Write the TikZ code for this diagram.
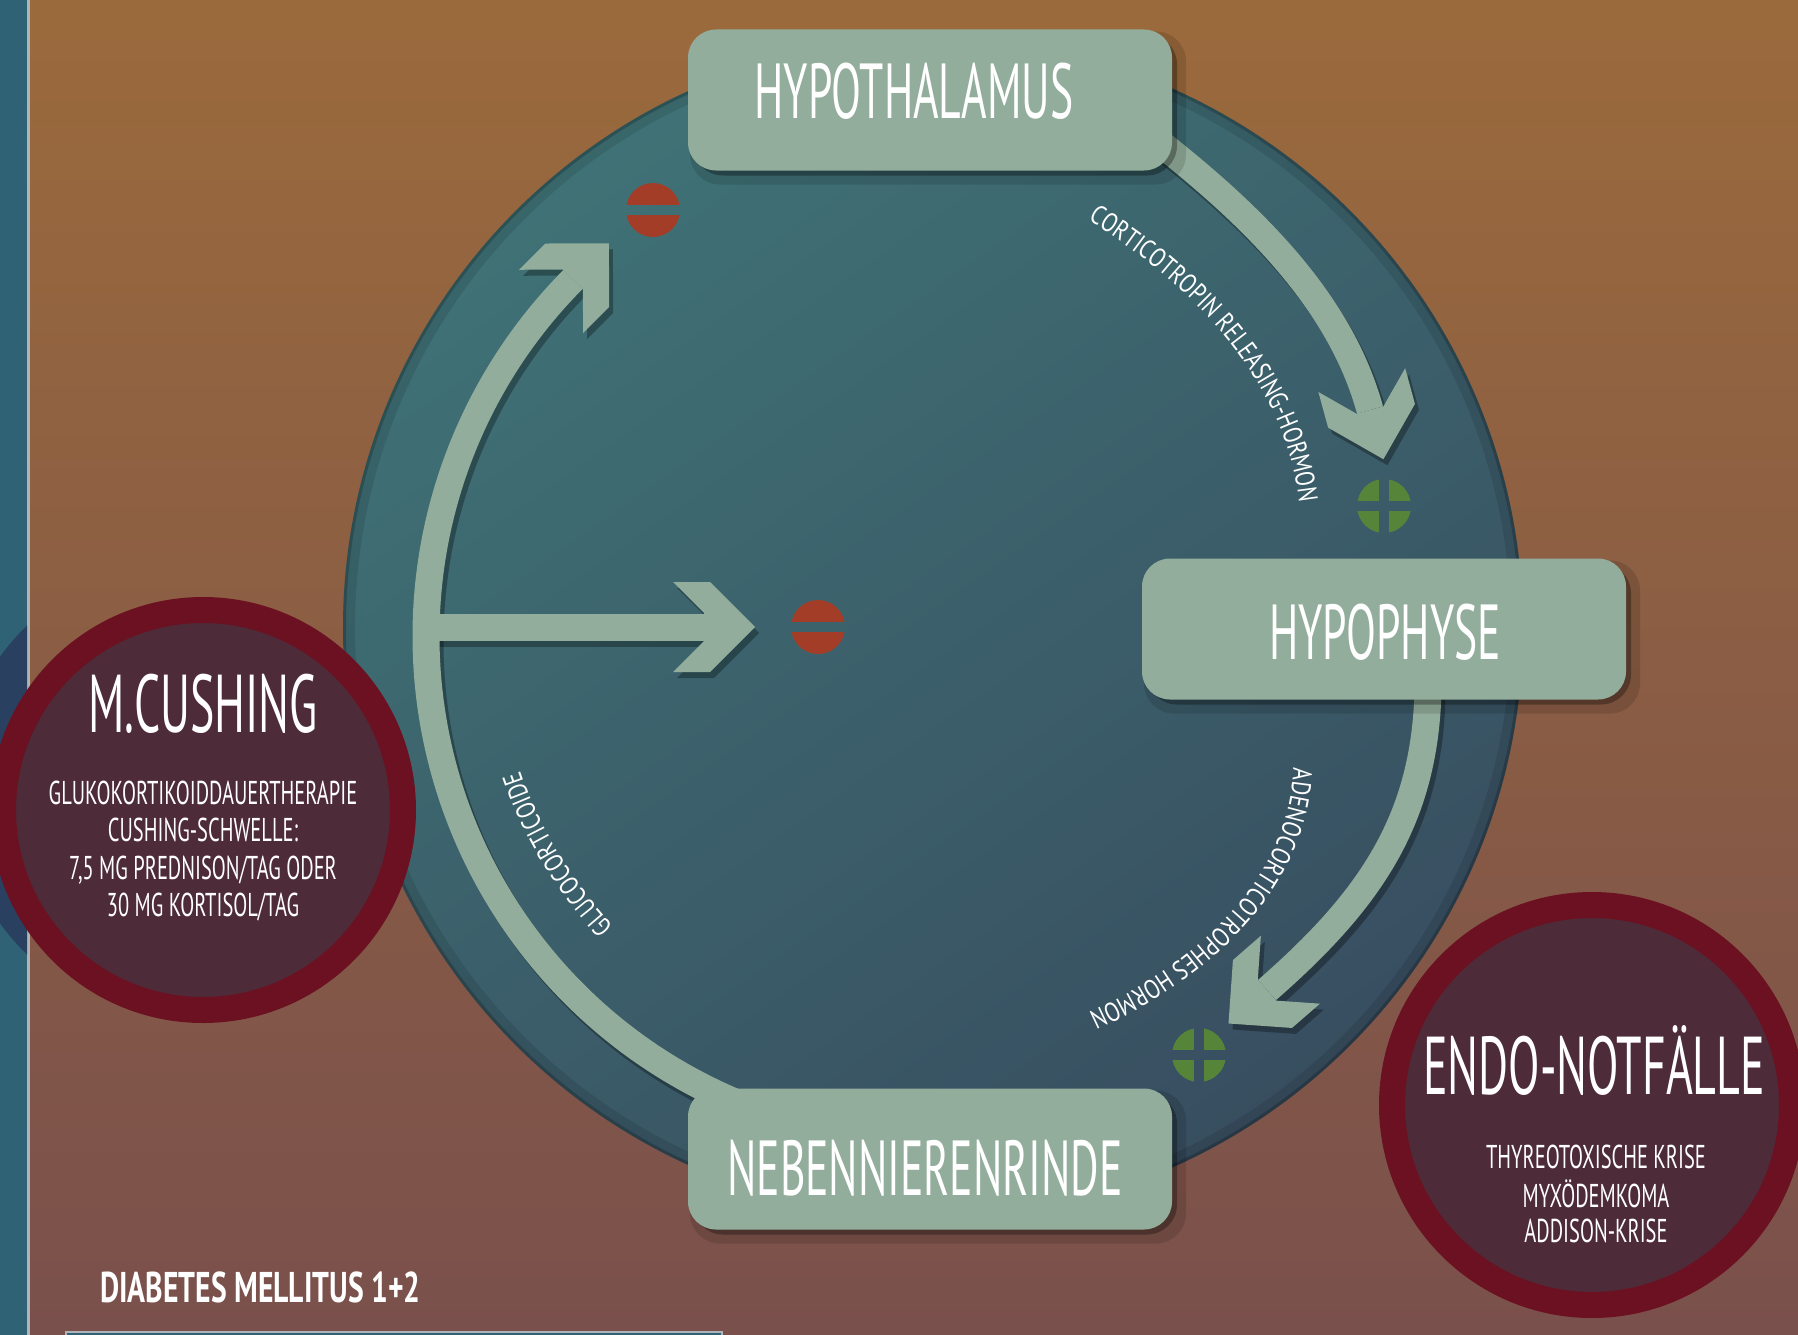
\documentclass[tikz,border=0pt]{standalone}
\usepackage{fontspec}
\usetikzlibrary{decorations.text}
\newfontfamily\hand[FakeStretch=0.56]{PT Sans}
\newfontfamily\bodyfont[FakeStretch=0.62]{PT Sans}
\newfontfamily\lblfont[FakeStretch=0.8]{PT Sans}
\newfontfamily\diabfont[FakeStretch=0.69]{PT Sans}
\definecolor{bgtop}{RGB}{155,106,60}
\definecolor{bgbot}{RGB}{122,80,76}
\definecolor{strip}{RGB}{46,98,116}
\definecolor{stripline}{RGB}{175,180,185}
\definecolor{navy}{RGB}{42,64,96}
\definecolor{circtop}{RGB}{63,114,118}
\definecolor{circbot}{RGB}{56,78,96}
\definecolor{sage}{RGB}{146,173,155}
\definecolor{minusred}{RGB}{163,61,40}
\definecolor{plusgreen}{RGB}{86,133,58}
\definecolor{ringred}{RGB}{107,17,33}
\definecolor{ringfill}{RGB}{78,43,56}
\newcommand\chevron[3]{\fill[#3, shift={#1}, rotate=#2] (0,0) -- (-45,45) -- (-82,45) -- (-51,14) -- (-51,-14) -- (-82,-45) -- (-45,-45) -- cycle;}
\newcommand\minussign[1]{\begin{scope}[shift={#1}]\clip (0,0) circle (27pt);\fill[minusred] (-30,5) rectangle (30,30);\fill[minusred] (-30,-5) rectangle (30,-30);\end{scope}}
\newcommand\plussign[1]{\begin{scope}[shift={#1}]\clip (0,0) circle (27pt);\fill[plusgreen] (5,5) rectangle (30,30);\fill[plusgreen] (-5,5) rectangle (-30,30);\fill[plusgreen] (5,-5) rectangle (30,-30);\fill[plusgreen] (-5,-5) rectangle (-30,-30);\end{scope}}
\tikzset{
  box/.style={rectangle, rounded corners=28pt, fill=sage, minimum width=484pt, minimum height=141pt, inner sep=0pt},
  boxshadow/.style={rectangle, rounded corners=30pt, fill=black, minimum width=484pt, minimum height=141pt, inner sep=0pt},
  title/.style={text=white, font=\hand\fontsize{78}{80}\selectfont, inner sep=0pt, anchor=base},
  bigtitle/.style={text=white, font=\hand\fontsize{82}{84}\selectfont, inner sep=0pt, anchor=base},
  body/.style={text=white, font=\bodyfont\fontsize{33}{36}\selectfont, inner sep=0pt, anchor=base},
  shaft/.style={draw=sage, line width=27pt, line cap=butt},
  shaftshadow/.style={draw=black, line width=27pt, line cap=butt},
  ring/.style={circle, fill=ringfill, draw=ringred, line width=26pt, minimum size=400pt, inner sep=0pt},
  curvelabel/.style={decorate, decoration={text along path, text align=center, text color=white, text={|\lblfont\fontsize{27}{30}\selectfont|#1}}}
}
\begin{document}
\begin{tikzpicture}[x=1pt,y=1pt]
\clip (0,0) rectangle (1798,-1335);
% background
\shade[top color=bgtop, bottom color=bgbot] (0,0) rectangle (1798,-1335);
\fill[strip] (0,0) rectangle (27,-1335);
\fill[stripline] (27,0) rectangle (29.5,-1335);
\begin{scope}
  \clip (0,0) rectangle (27,-1335);
  \fill[navy] (185,-790) circle (228pt);
\end{scope}
% big circle
\coordinate (C) at (933,-628);
\shade[top color=circtop, bottom color=circbot, shading angle=35] (C) circle (590pt);
\begin{scope}
  \clip (C) circle (590pt);
  \draw[black, opacity=0.2, line width=6pt] (C) circle (590pt);
  \draw[black, opacity=0.1, line width=24pt] (C) circle (590pt);
\end{scope}
% arrow geometry
\coordinate (G) at (932,-636);
\coordinate (gluS) at ([shift={(250:506pt)}]G);
\coordinate (gluE) at ([shift={(135.2:506pt)}]G);
\coordinate (gluTip) at ([shift={(45.2:51pt)}]gluE);
\coordinate (brS) at (426,-627);
\coordinate (brE) at (704,-627);
\coordinate (brTip) at (755,-627);
\coordinate (crhS) at (1130,-120);
\coordinate (crhE) at (1370,-410);
\coordinate (crhTip) at (1383.4,-459.2);
\coordinate (acthS) at (1428,-690);
\coordinate (acthE) at (1267,-990);
\coordinate (acthTip) at (1228.5,-1023.5);
% arrow shadows
\begin{scope}[opacity=0.3]
\begin{scope}[transform canvas={shift={(4pt,-6pt)}}]
  \draw[shaftshadow] (gluS) arc[start angle=250, end angle=135.2, radius=506pt];
  \draw[shaftshadow] (brS) -- (brE);
  \draw[shaftshadow] (crhS) .. controls (1250,-210) and (1340,-300) .. (crhE);
  \draw[shaftshadow] (acthS) .. controls (1425,-820) and (1370,-900) .. (acthE);
  \chevron{(gluTip)}{45.2}{black}
  \chevron{(brTip)}{0}{black}
  \chevron{(crhTip)}{-74.7}{black}
  \chevron{(acthTip)}{221}{black}
\end{scope}
\end{scope}
% arrows
\draw[shaft] (gluS) arc[start angle=250, end angle=135.2, radius=506pt];
\draw[shaft] (brS) -- (brE);
\draw[shaft] (crhS) .. controls (1250,-210) and (1340,-300) .. (crhE);
\draw[shaft] (acthS) .. controls (1425,-820) and (1370,-900) .. (acthE);
\chevron{(gluTip)}{45.2}{sage}
\chevron{(brTip)}{0}{sage}
\chevron{(crhTip)}{-74.7}{sage}
\chevron{(acthTip)}{221}{sage}
% box shadows
\node[boxshadow, opacity=0.12, minimum width=496pt, minimum height=153pt] (hypsh2) at (938,-108) {};
\node[boxshadow, opacity=0.3] (hypsh) at (935,-105) {};
\node[boxshadow, opacity=0.12, minimum width=496pt, minimum height=153pt] (pitsh2) at (1392,-637) {};
\node[boxshadow, opacity=0.3] (pitsh) at (1389,-634) {};
\node[boxshadow, opacity=0.12, minimum width=496pt, minimum height=153pt] (nnrsh2) at (938,-1167) {};
\node[boxshadow, opacity=0.3] (nnrsh) at (935,-1164) {};
% boxes
\node[box] (hyp) at (930,-100) {};
\node[box] (pit) at (1384,-629) {};
\node[box] (nnr) at (930,-1159) {};
\node[title] (hypT) at (914,-118) {HYPOTHALAMUS};
\node[title] (pitT) at (1385,-659) {HYPOPHYSE};
\node[title] (nnrT) at (925,-1195) {NEBENNIERENRINDE};
% curved labels
\path[curvelabel={CORTICOTROPIN RELEASING-HORMON}] (1080,-215) .. controls (1195,-285) and (1290,-385) .. (1300,-512);
\path[curvelabel={ADENOCORTICOTROPHES HORMON}] (1293,-750) .. controls (1300,-860) and (1215,-960) .. (1072,-1020);
\path[curvelabel={GLUCOCORTICOIDE}] ([shift={(230:437pt)}]C) arc[start angle=230, end angle=192, radius=437pt];
% signs
\coordinate (m1) at (653,-210);
\coordinate (m2) at (818,-627);
\coordinate (p1) at (1384,-506);
\coordinate (p2) at (1199,-1055);
\minussign{(m1)}
\minussign{(m2)}
\plussign{(p1)}
\plussign{(p2)}
% side circles
\node[ring] (cush) at (203,-810) {};
\node[bigtitle] (cushT) at (203,-732) {M.CUSHING};
\node[body] (cushL1) at (203,-804) {GLUKOKORTIKOIDDAUERTHERAPIE};
\node[body] (cushL2) at (203,-841) {CUSHING-SCHWELLE:};
\node[body] (cushL3) at (203,-879) {7,5 MG PREDNISON/TAG ODER};
\node[body] (cushL4) at (203,-916) {30 MG KORTISOL/TAG};
\node[ring] (endo) at (1592,-1105) {};
\node[bigtitle] (endoT) at (1594,-1094) {ENDO-NOTFÄLLE};
\node[body] (endoL1) at (1596,-1168) {THYREOTOXISCHE KRISE};
\node[body] (endoL2) at (1596,-1207) {MYXÖDEMKOMA};
\node[body] (endoL3) at (1596,-1242) {ADDISON-KRISE};
% bottom left
\node[anchor=base west, inner sep=0pt, text=white, font=\diabfont\bfseries\fontsize{43}{45}\selectfont] (diab) at (100,-1302) {DIABETES MELLITUS 1+2};
\draw[draw=stripline, line width=2pt, fill=strip] (66,-1332) rectangle (722,-1350);
\end{tikzpicture}
\end{document}
